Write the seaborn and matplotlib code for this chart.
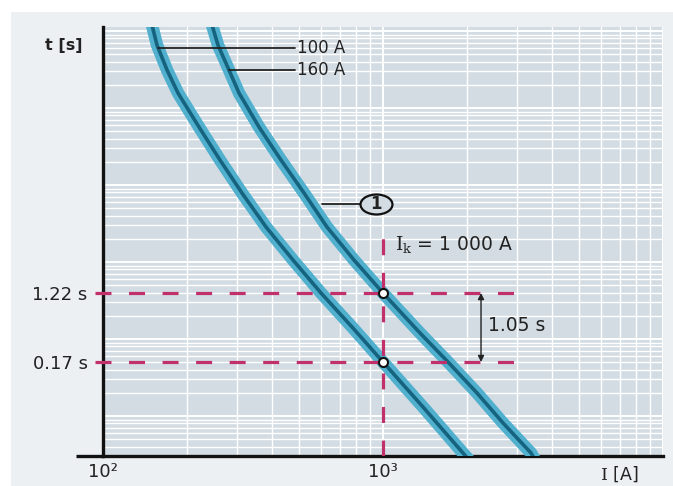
import numpy as np
import pandas as pd
import matplotlib
matplotlib.use("Agg")
import matplotlib.pyplot as plt
from matplotlib.patches import Rectangle
from matplotlib.path import Path
from matplotlib.transforms import Affine2D
from matplotlib.ticker import LogLocator, NullLocator, FixedLocator, FixedFormatter
import seaborn as sns

# ---------------- data ----------------
I_100 = [149.6, 155.9, 169.3, 185.3, 220.2, 261.7, 313.6, 382.2, 477.0, 600.6, 775.0, 1000, 1389.5, 2028.7]
t_100 = [2579, 1456.6, 713.2, 369.6, 139.9, 54.51, 21.23, 8.04, 3.132, 1.22, 0.4619, 0.17, 0.04699, 0.01034]

I_160 = [245.1, 257.4, 281.8, 306.0, 360.7, 432.2, 522.3, 631.0, 787.8, 1000, 1355.6, 1707.0, 2166.1, 2682.7, 3377.6, 3490.5]
t_160 = [2579, 1456.6, 713.2, 369.6, 139.9, 54.51, 21.23, 8.04, 3.132, 1.22, 0.3892, 0.17, 0.0701, 0.02976, 0.01263, 0.01034]

I_k = 1000
t_marks = [1.22, 0.17]
t_tick_labels = ["1.22 s", "0.17 s"]
x_ticks = [100, 1000]
x_tick_labels = ["10²", "10³"]
dash_I_range = [93.6, 3162]
ik_line_top = 6.78
delta_label = "1.05 s"
arrow_I = 2239

curve_labels = ["100 A", "160 A"]
label_anchor_I = [157.2, 281.8]
label_anchor_t = [1336.6, 713.2]
label_end_I = 485
label_text_I = 493
circ_anchor = (605.5, 15.51)
circ_end_I = 827.9
circ_center_I = 944
ik_text_pos = (1104, 4.81)

xlim = (100, 10000)
ylim_data = (10 ** -1.936, 10 ** 3.387)
ylim_grid = (10 ** -0.519, 10 ** 5.052)

# ---------------- style ----------------
sns.set_theme(style="white")
plt.rcParams["font.family"] = ["DejaVu Sans"]
plt.rcParams["mathtext.fontset"] = "dejavuserif"

TXT = "#222222"
W, H = 673, 486
fig = plt.figure(figsize=(W / 100, H / 100), dpi=100)
fig.patch.set_facecolor("white")
fig.patches.append(Rectangle((11 / W, 0), 1, (H - 12) / H, transform=fig.transFigure,
                             facecolor="#edf0f3", edgecolor="none", zorder=-10))

pos = [103 / W, 1 - 456 / H, (663 - 103) / W, (456 - 27) / H]
BG = "#d3dce3"

# background grid axes
axg = fig.add_axes(pos)
axg.set_facecolor(BG)
axg.set_xscale("log")
axg.set_yscale("log")
axg.set_xlim(*xlim)
axg.set_ylim(*ylim_grid)
for a in (axg.xaxis, axg.yaxis):
    a.set_major_locator(LogLocator(base=10, numticks=100))
    a.set_minor_locator(LogLocator(base=10, subs=np.arange(2, 10), numticks=100))
axg.grid(which="major", color="white", lw=1.4)
axg.grid(which="minor", color="white", lw=1.0)
axg.tick_params(which="both", length=0, labelleft=False, labelbottom=False)
for s in axg.spines.values():
    s.set_visible(False)

# data axes
ax = fig.add_axes(pos)
ax.set_facecolor("none")
ax.set_xscale("log")
ax.set_yscale("log")
ax.set_xlim(*xlim)
ax.set_ylim(*ylim_data)

df = pd.concat([
    pd.DataFrame({"I": I_100, "t": t_100, "curve": curve_labels[0]}),
    pd.DataFrame({"I": I_160, "t": t_160, "curve": curve_labels[1]}),
])
band_c = "#50b0cd"
core_c = "#15637f"
for name, g in df.groupby("curve"):
    sns.lineplot(data=g, x="I", y="t", ax=ax, estimator=None, sort=False,
                 color=band_c, lw=9.0, solid_capstyle="butt", solid_joinstyle="round", zorder=3)
    sns.lineplot(data=g, x="I", y="t", ax=ax, estimator=None, sort=False,
                 color=core_c, lw=2.6, solid_capstyle="butt", solid_joinstyle="round", zorder=4)

dash_c = "#c2306b"
dash = (0, (5, 5.5))
ax.hlines(t_marks, dash_I_range[0], dash_I_range[1], colors=dash_c, lw=2.3,
          linestyles=[dash], zorder=5, clip_on=False)
ax.vlines([I_k], ylim_data[0], ik_line_top, colors=dash_c, lw=2.3,
          linestyles=[dash], zorder=5)
ax.plot([I_k, I_k], t_marks, ls="none", marker="o", ms=6.5, mfc="white",
        mec="#111111", mew=1.5, zorder=7)

# delta arrow
ax.annotate("", xy=(arrow_I, t_marks[0]), xytext=(arrow_I, t_marks[1]),
            arrowprops=dict(arrowstyle="<|-|>", color=TXT, lw=1.0,
                            mutation_scale=9, shrinkA=0, shrinkB=0), zorder=6)
ax.text(arrow_I * 1.06, np.sqrt(t_marks[0] * t_marks[1]) * 1.05, delta_label,
        fontsize=13.5, color=TXT, va="center", ha="left")

# curve labels
for lab, ia, ta in zip(curve_labels, label_anchor_I, label_anchor_t):
    ax.plot([ia, label_end_I], [ta, ta], color=TXT, lw=1.3, zorder=6)
    ax.text(label_text_I, ta, lab, fontsize=12, color=TXT, va="center", ha="left")

# circled "1" callout
ax.plot([circ_anchor[0], circ_end_I], [circ_anchor[1], circ_anchor[1]],
        color=TXT, lw=1.3, zorder=6)
ellipse_marker = Path.unit_circle().transformed(Affine2D().scale(1.6, 1.0))
ax.plot([circ_center_I], [circ_anchor[1]], ls="none", marker=ellipse_marker, ms=23,
        mfc=BG, mec="#111111", mew=1.6, zorder=7)
ax.text(circ_center_I, circ_anchor[1], "1", fontsize=12, fontweight="bold",
        color=TXT, ha="center", va="center", zorder=8)

ax.text(ik_text_pos[0], ik_text_pos[1], r"$\mathrm{I}_{\mathrm{k}}$ = 1 000 A", fontsize=13.5,
        color=TXT, ha="left", va="center")

# axes styling
for s in ("top", "right"):
    ax.spines[s].set_visible(False)
for s in ("left", "bottom"):
    ax.spines[s].set_color("#111111")
    ax.spines[s].set_linewidth(2.4)
ax.plot([-27 / 560, 0], [0, 0], transform=ax.transAxes, color="#111111",
        lw=2.4, clip_on=False, solid_capstyle="butt")

ax.xaxis.set_major_locator(FixedLocator(x_ticks))
ax.xaxis.set_major_formatter(FixedFormatter(x_tick_labels))
ax.xaxis.set_minor_locator(NullLocator())
ax.yaxis.set_major_locator(FixedLocator(t_marks))
ax.yaxis.set_major_formatter(FixedFormatter(t_tick_labels))
ax.yaxis.set_minor_locator(NullLocator())
ax.tick_params(axis="x", length=0, pad=5, labelsize=13, labelcolor=TXT)
ax.tick_params(axis="y", length=0, pad=11, labelsize=13, labelcolor=TXT)
ax.set_xlabel("")
ax.set_ylabel("")
ax.grid(False)

ax.text(-0.037, 0.958, "t [s]", transform=ax.transAxes, fontsize=11.5,
        fontweight="bold", color=TXT, ha="right", va="center")
ax.text(0.8875, -0.0559, r"$\mathrm{I}$ [A]", transform=ax.transAxes, fontsize=12.5,
        color=TXT, ha="left", va="baseline")

fig.savefig("out.png", dpi=100)
